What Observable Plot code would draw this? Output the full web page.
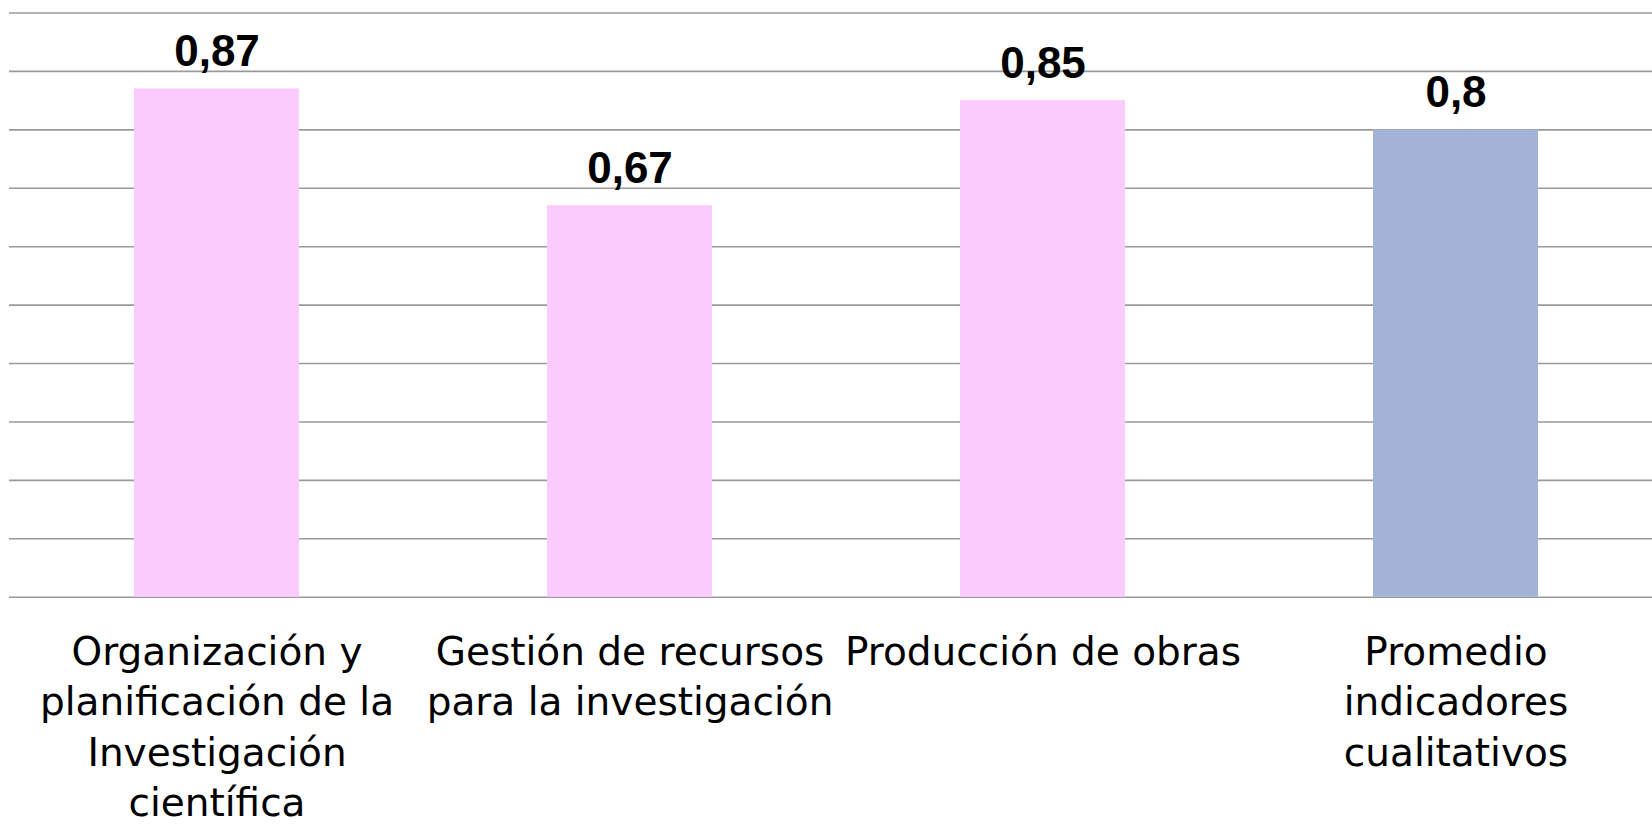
<!DOCTYPE html>
<html>
<head>
<meta charset="utf-8">
<script src="https://cdn.jsdelivr.net/npm/d3@7"></script>
<script src="https://cdn.jsdelivr.net/npm/@observablehq/plot@0.6"></script>
<style>
  html, body { margin: 0; padding: 0; background: #fff; }
  #chart svg { display: block; }
</style>
</head>
<body>
<div id="chart"></div>
<script>
const categories = [
  "Organización y planificación de la Investigación científica",
  "Gestión de recursos para la investigación",
  "Producción de obras",
  "Promedio indicadores cualitativos"
];
const tickLabels = [
  "Organización y\nplanificación de la\nInvestigación\ncientífica",
  "Gestión de recursos\npara la investigación",
  "Producción de obras",
  "Promedio\nindicadores\ncualitativos"
];
const values = [0.87, 0.67, 0.85, 0.8];
const barColors = ["#FCCBFE", "#FCCBFE", "#FCCBFE", "#A3B3D7"];
const gridTicks = [0, 0.1, 0.2, 0.3, 0.4, 0.5, 0.6, 0.7, 0.8, 0.9, 1.0];

const data = categories.map((c, i) => ({cat: c, value: values[i], color: barColors[i], label: tickLabels[i]}));
const labelOf = new Map(data.map(d => [d.cat, d.label]));

const chart = Plot.plot({
  width: 1652,
  height: 827,
  marginTop: 12.5,
  marginBottom: 230.3,
  marginLeft: 9,
  marginRight: -11,
  x: {domain: categories, paddingInner: 0.6, paddingOuter: 0.3, align: 0.5},
  y: {domain: [0, 1], axis: null},
  marks: [
    Plot.ruleY(gridTicks, {stroke: "#9a9a9a", strokeWidth: 1.6}),
    Plot.barY(data, {x: "cat", y: "value", fill: "color"}),
    Plot.text(data, {
      x: "cat", y: "value",
      text: d => String(d.value).replace(".", ","),
      lineAnchor: "bottom", dy: -23,
      fontSize: 44, fontWeight: "bold", fontFamily: "Liberation Sans", fill: "#000"
    }),
    Plot.axisX({
      tickSize: 0, tickPadding: 32,
      tickFormat: c => labelOf.get(c),
      fontSize: 39, fontFamily: "DejaVu Sans",
      lineHeight: 1.29, lineAnchor: "top",
      fill: "#000", label: null
    })
  ]
});
chart.style.color = "#000";
document.getElementById("chart").append(chart);
</script>
</body>
</html>
